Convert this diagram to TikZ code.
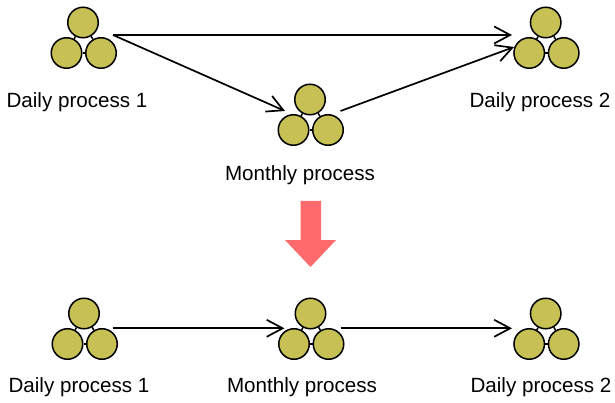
\documentclass[tikz,border=0pt]{standalone}
\usepackage{fontspec}
\setmainfont{Liberation Sans}
\usetikzlibrary{arrows.meta}
\definecolor{ballfill}{HTML}{C6C055}
\definecolor{downred}{HTML}{FF6A6C}
\tikzset{
  ball/.style={circle,draw,line width=1.5pt,fill=ballfill,minimum size=30.5pt,inner sep=0pt},
  flow/.style={line width=1.7pt,-{Straight Barb[length=16pt,width=17pt]}},
  lab/.style={font=\fontsize{20.6}{24}\selectfont,inner sep=0pt}
}
\begin{document}
\begin{tikzpicture}[x=1pt,y=-1pt]
\useasboundingbox (0,0) rectangle (615,403);

% three balls per process
\foreach \name/\x/\y in {A/83/22.5,B/310/99.5,C/545.7/22.5,D/84/313.5,E/310.5/313.5,F/545.7/313.5}{
  \node[ball] (\name t) at (\x,\y) {};
  \node[ball] (\name l) at (\x-16.5,\y+30.5) {};
  \node[ball] (\name r) at (\x+18,\y+30.5) {};
  \draw[line width=1.5pt] (\name t) -- (\name l);
  \draw[line width=1.5pt] (\name t) -- (\name r);
  \draw[line width=1.5pt] (\name l) -- (\name r);
}
\coordinate (Aout) at (113,35);
\coordinate (Bin) at (285,111);
\coordinate (Bout) at (340.5,111);
\coordinate (Cin) at (512,35);
\coordinate (Cin2) at (514,47);
\coordinate (Dout) at (112.5,328.3);
\coordinate (Ein) at (284.5,328.3);
\coordinate (Eout) at (340.5,328.3);
\coordinate (Fin) at (512,328.3);

\node[lab] (a) at (77,102.5) {Daily process 1};
\node[lab] (b) at (300,175.5) {Monthly process};
\node[lab] (c) at (540,102.5) {Daily process 2};
\node[lab] (d) at (79,387.5) {Daily process 1};
\node[lab] (e) at (302,387.5) {Monthly process};
\node[lab] (f) at (541,387.5) {Daily process 2};

\draw[flow] (Aout) -- (Cin);
\draw[flow] (Aout) -- (Bin);
\draw[flow] (Bout) -- (Cin2);
\draw[flow] (Dout) -- (Ein);
\draw[flow] (Eout) -- (Fin);

\fill[downred] (300.5,201) -- (321,201) -- (321,240) -- (336,240) -- (310.5,267) -- (285,240) -- (300.5,240) -- cycle;
\end{tikzpicture}
\end{document}
